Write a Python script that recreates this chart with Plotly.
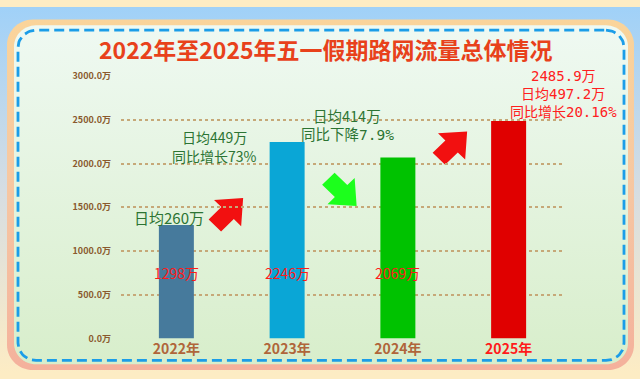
import numpy as np
import plotly.graph_objects as go

W, H = 640, 379

# ---------------- data ----------------
years = ["2022年", "2023年", "2024年", "2025年"]
totals = [1298, 2246, 2069, 2485.9]
daily = [260, 449, 414, 497.2]
yoy_text = ["", "同比增长73%", "同比下降7.9%", "同比增长20.16%"]
bar_colors = ["#467a9c", "#0aa6d6", "#00c200", "#e00000"]
xtick_colors = ["#b0653a", "#b0653a", "#b0653a", "#ff1a1a"]
yticks = [0, 500, 1000, 1500, 2000, 2500, 3000]
ytick_text = [f"{v:.1f}万" for v in yticks]
title = "2022年至2025年五一假期路网流量总体情况"

FONT = "Noto Sans CJK SC"
MONO = "DejaVu Sans Mono, Noto Sans CJK SC"
# plot area (pixels)
PL, PR, PT, PB = 121, 564, 71.5, 343.3


def rounded(x0, y0, x1, y1, r, n=16):
    pts = []
    corners = [(x1 - r, y0 + r, -90, 0), (x1 - r, y1 - r, 0, 90),
               (x0 + r, y1 - r, 90, 180), (x0 + r, y0 + r, 180, 270)]
    for cx, cy, a0, a1 in corners:
        for a in np.linspace(a0, a1, n):
            t = np.radians(a)
            pts.append((cx + r * np.cos(t), cy + r * np.sin(t)))
    pts.append(pts[0])
    return [p[0] for p in pts], [H - p[1] for p in pts]


def arrow(cx, cy, L, angle_deg):
    shaft_hw, head_hw, shaft_len = 0.22 * L, 0.48 * L, 0.45 * L
    local = [(-L / 2, -shaft_hw), (-L / 2 + shaft_len, -shaft_hw), (-L / 2 + shaft_len, -head_hw),
             (L / 2, 0), (-L / 2 + shaft_len, head_hw), (-L / 2 + shaft_len, shaft_hw),
             (-L / 2, shaft_hw), (-L / 2, -shaft_hw)]
    t = np.radians(angle_deg)
    xs = [cx + x * np.cos(t) - y * np.sin(t) for x, y in local]
    ys = [(H - cy) + x * np.sin(t) + y * np.cos(t) for x, y in local]
    return xs, ys


fig = go.Figure()

# outer background gradient
bx, by = [0, W, W, 0, 0], [0, 0, H, H, 0]
fig.add_trace(go.Scatter(x=bx, y=by, fill="toself", mode="none", hoverinfo="skip",
                         fillgradient=dict(type="vertical",
                                           colorscale=[[0, "#fdecc4"], [0.5, "#d6dde2"], [1, "#a0d1f8"]])))
# peach rounded frame
fx, fy = rounded(7, 13, 634, 376, 26)
fig.add_trace(go.Scatter(x=fx, y=fy, fill="toself", mode="none", hoverinfo="skip",
                         fillgradient=dict(type="vertical",
                                           colorscale=[[0, "#f4b19c"], [0.5, "#f6c6a2"], [1, "#fad49a"]])))
# green panel
gx, gy = rounded(14, 19, 628, 370, 22)
fig.add_trace(go.Scatter(x=gx, y=gy, fill="toself", mode="none", hoverinfo="skip",
                         fillgradient=dict(type="vertical",
                                           colorscale=[[0, "#d8eecb"], [1, "#eff9f2"]])))
# dashed border
dx, dy = rounded(18, 24, 624, 366, 18)
fig.add_trace(go.Scatter(x=dx, y=dy, mode="lines", hoverinfo="skip",
                         line=dict(color="#1b9de8", width=2.8, dash="10px,5px")))

# arrows
for (cx, cy, L, ang, col) in [(229, 212, 40, 45, "#f21010"),
                              (342.5, 192, 40, -45, "#1cff1c"),
                              (453, 143, 40, 45, "#f21010")]:
    ax_, ay_ = arrow(cx, cy, L, ang)
    fig.add_trace(go.Scatter(x=ax_, y=ay_, fill="toself", mode="none", fillcolor=col, hoverinfo="skip"))

# bars
fig.add_trace(go.Bar(x=years, y=totals, marker=dict(color=bar_colors, line=dict(width=0)),
                     width=0.316, xaxis="x2", yaxis="y2", hoverinfo="skip"))

annotations = []


def txt(x, py, text, size, color, weight="normal", family=FONT):
    annotations.append(dict(x=x, y=H - py, xref="x", yref="y", text=text, showarrow=False,
                            borderpad=0,
                            font=dict(family=family, size=size, color=color, weight=weight)))


# title
txt(326, 44, title, 23, "#e8411b", "bold")
# inner value labels (first three bars)
for i in range(3):
    annotations.append(dict(x=years[i], y=750, xref="x2", yref="y2", text=f"{totals[i]:g}万",
                            showarrow=False, borderpad=0,
                            font=dict(family=FONT, size=14, color="#ff1a1a")))
green = "#2c7433"
txt(168.5, 218, f"日均{daily[0]:g}万", 15, green)
txt(214, 135, f"日均{daily[1]:g}万", 14, green)
txt(214, 154, yoy_text[1], 14, green)
txt(347, 112, f"日均{daily[2]:g}万", 14.5, green)
txt(347, 133, yoy_text[2], 14.5, green, family=MONO)
red = "#ff2020"
txt(563, 71, f"{totals[3]:g}万", 14, red, family=MONO)
txt(563, 90, f"日均{daily[3]:g}万", 14, red, family=MONO)
txt(563, 109, yoy_text[3], 14, red, family=MONO)

ticktext_x = [f"<span style='color:{c}'>{y}</span>" for y, c in zip(years, xtick_colors)]

fig.update_layout(
    width=W, height=H, margin=dict(l=0, r=0, t=0, b=0),
    paper_bgcolor="#fdecc4", plot_bgcolor="rgba(0,0,0,0)", showlegend=False,
    xaxis=dict(domain=[0, 1], range=[0, W], visible=False, fixedrange=True),
    yaxis=dict(domain=[0, 1], range=[0, H], visible=False, fixedrange=True),
    xaxis2=dict(domain=[PL / W, PR / W], anchor="y2", showgrid=False, showline=False, zeroline=False,
                tickvals=years, ticktext=ticktext_x, ticks="", fixedrange=True,
                tickfont=dict(family=FONT, size=14, weight="bold", color="#b0653a")),
    yaxis2=dict(domain=[(H - PB) / H, (H - PT) / H], anchor="x2", range=[0, 3000],
                tickvals=yticks, ticktext=ytick_text, showgrid=True, zeroline=False,
                gridcolor="#c6a878", griddash="dot", gridwidth=1.5, ticks="", fixedrange=True,
                ticklabelstandoff=9,
                tickfont=dict(family=FONT, size=9, weight="bold", color="#8a5a2e")),
    annotations=annotations,
    font=dict(family=FONT),
)

fig.write_html("out.html", config={"displayModeBar": False},
               post_script="document.body.style.margin='0px';")
